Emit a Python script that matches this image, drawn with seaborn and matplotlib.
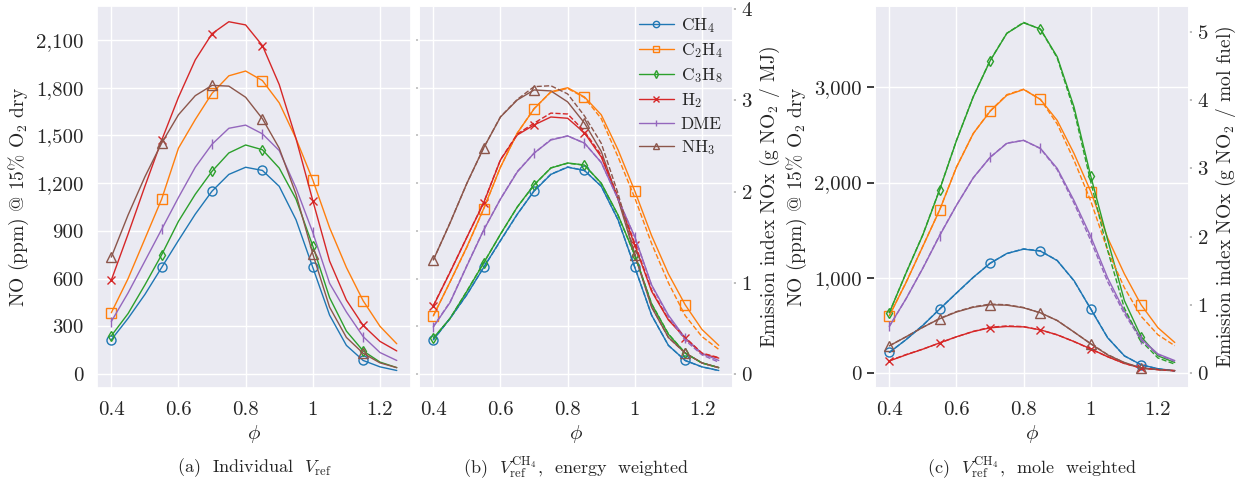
import numpy as np
import pandas as pd
import matplotlib
matplotlib.use("Agg")
import matplotlib.pyplot as plt
import seaborn as sns
from matplotlib.ticker import FuncFormatter, MultipleLocator

# equivalence ratio grid
phi = [0.40, 0.45, 0.50, 0.55, 0.60, 0.65, 0.70, 0.75, 0.80,
       0.85, 0.90, 0.95, 1.00, 1.05, 1.10, 1.15, 1.20, 1.25]

fuels = ["CH$_4$", "C$_2$H$_4$", "C$_3$H$_8$", "H$_2$", "DME", "NH$_3$"]
markers = ["o", "s", "d", "x", "|", "^"]

# (a) NO ppm, individual Vref
ch4_a = [215, 350, 500, 670, 840, 1005, 1150, 1255, 1300, 1280, 1180, 970, 670, 370, 180, 85, 45, 22]
c2h4_a = [385, 600, 850, 1100, 1420, 1600, 1765, 1875, 1905, 1845, 1705, 1480, 1220, 920, 670, 460, 300, 190]
c3h8_a = [240, 380, 560, 750, 960, 1130, 1275, 1390, 1440, 1410, 1295, 1100, 805, 480, 270, 145, 75, 40]
h2_a = [590, 880, 1180, 1470, 1740, 1975, 2140, 2215, 2195, 2065, 1820, 1480, 1090, 710, 465, 305, 205, 145]
dme_a = [330, 510, 710, 910, 1110, 1300, 1445, 1545, 1565, 1510, 1405, 1170, 890, 570, 390, 235, 135, 85]
nh3_a = [735, 1000, 1240, 1452, 1630, 1750, 1815, 1810, 1740, 1605, 1420, 1130, 755, 420, 230, 130, 70, 40]

# (b) NO ppm, CH4 Vref energy weighted
ch4_b = [215, 350, 500, 670, 840, 1005, 1150, 1255, 1300, 1280, 1180, 970, 670, 370, 180, 85, 45, 22]
c2h4_b = [365, 580, 800, 1040, 1300, 1515, 1667, 1775, 1800, 1742, 1630, 1410, 1150, 870, 630, 435, 280, 180]
c3h8_b = [226, 350, 520, 698, 880, 1050, 1190, 1295, 1327, 1314, 1200, 1000, 748, 440, 250, 132, 70, 40]
h2_b = [428, 640, 860, 1076, 1346, 1503, 1566, 1616, 1608, 1516, 1365, 1100, 810, 520, 340, 226, 126, 100]
dme_b = [296, 450, 680, 905, 1100, 1270, 1389, 1471, 1497, 1452, 1330, 1100, 862, 560, 370, 226, 130, 85]
nh3_b = [717, 950, 1200, 1422, 1616, 1723, 1786, 1780, 1711, 1578, 1400, 1100, 748, 420, 230, 132, 70, 40]

# (b) emission index g NO2 / MJ (dashed)
ch4_ei_b = [0.375, 0.61, 0.87, 1.17, 1.46, 1.75, 2.01, 2.19, 2.27, 2.23, 2.06, 1.69, 1.17, 0.645, 0.314, 0.148, 0.078, 0.038]
c2h4_ei_b = [0.64, 1.01, 1.39, 1.81, 2.27, 2.64, 2.91, 3.09, 3.13, 3.03, 2.80, 2.38, 1.93, 1.43, 1.00, 0.64, 0.41, 0.27]
c3h8_ei_b = [0.39, 0.61, 0.91, 1.22, 1.53, 1.83, 2.07, 2.26, 2.31, 2.29, 2.09, 1.74, 1.30, 0.77, 0.44, 0.23, 0.12, 0.07]
h2_ei_b = [0.75, 1.12, 1.50, 1.88, 2.35, 2.63, 2.75, 2.86, 2.85, 2.66, 2.40, 1.94, 1.43, 0.92, 0.60, 0.40, 0.23, 0.18]
dme_ei_b = [0.52, 0.79, 1.19, 1.58, 1.92, 2.22, 2.42, 2.57, 2.61, 2.53, 2.32, 1.92, 1.50, 0.97, 0.63, 0.37, 0.21, 0.13]
nh3_ei_b = [1.25, 1.66, 2.09, 2.48, 2.82, 3.01, 3.15, 3.16, 3.07, 2.83, 2.53, 1.98, 1.32, 0.74, 0.40, 0.23, 0.12, 0.07]

# (c) NO ppm, CH4 Vref mole weighted
ch4_c = [215, 350, 500, 670, 840, 1005, 1150, 1255, 1300, 1280, 1180, 970, 670, 370, 180, 85, 45, 22]
c2h4_c = [600, 950, 1330, 1713, 2160, 2515, 2747, 2916, 2977, 2873, 2652, 2305, 1905, 1420, 1040, 715, 475, 320]
c3h8_c = [632, 1050, 1450, 1925, 2440, 2900, 3277, 3567, 3677, 3612, 3320, 2794, 2065, 1400, 760, 380, 180, 110]
h2_c = [126, 190, 250, 316, 380, 435, 474, 488, 484, 453, 400, 330, 253, 170, 100, 53, 35, 25]
dme_c = [490, 780, 1100, 1443, 1760, 2050, 2264, 2411, 2443, 2359, 2148, 1811, 1432, 1000, 650, 358, 200, 130]
nh3_c = [284, 380, 480, 569, 640, 690, 716, 712, 684, 632, 550, 430, 305, 190, 110, 53, 35, 25]

# (c) emission index g NO2 / mol fuel (dashed)
ch4_ei_c = [0.30, 0.49, 0.70, 0.94, 1.17, 1.40, 1.61, 1.75, 1.82, 1.79, 1.65, 1.35, 0.94, 0.52, 0.25, 0.12, 0.06, 0.03]
c2h4_ei_c = [0.84, 1.33, 1.86, 2.39, 3.02, 3.51, 3.84, 4.08, 4.16, 4.01, 3.65, 3.12, 2.52, 1.80, 1.25, 0.83, 0.56, 0.40]
c3h8_ei_c = [0.88, 1.47, 2.03, 2.69, 3.41, 4.05, 4.58, 4.98, 5.14, 5.04, 4.62, 3.85, 2.80, 1.80, 0.95, 0.47, 0.22, 0.13]
h2_ei_c = [0.18, 0.27, 0.35, 0.44, 0.53, 0.61, 0.67, 0.69, 0.68, 0.63, 0.56, 0.46, 0.35, 0.24, 0.14, 0.07, 0.05, 0.03]
dme_ei_c = [0.68, 1.09, 1.54, 2.02, 2.46, 2.86, 3.16, 3.37, 3.41, 3.29, 2.98, 2.49, 1.94, 1.34, 0.87, 0.48, 0.27, 0.17]
nh3_ei_c = [0.40, 0.53, 0.67, 0.80, 0.90, 0.97, 1.01, 1.00, 0.96, 0.88, 0.77, 0.60, 0.43, 0.27, 0.15, 0.07, 0.05, 0.03]

panel_a = [ch4_a, c2h4_a, c3h8_a, h2_a, dme_a, nh3_a]
panel_b = [ch4_b, c2h4_b, c3h8_b, h2_b, dme_b, nh3_b]
panel_b_ei = [ch4_ei_b, c2h4_ei_b, c3h8_ei_b, h2_ei_b, dme_ei_b, nh3_ei_b]
panel_c = [ch4_c, c2h4_c, c3h8_c, h2_c, dme_c, nh3_c]
panel_c_ei = [ch4_ei_c, c2h4_ei_c, c3h8_ei_c, h2_ei_c, dme_ei_c, nh3_ei_c]

sns.set_theme(style="darkgrid", palette="tab10")
plt.rcParams["font.family"] = "serif"
plt.rcParams["font.serif"] = ["cmr10", "DejaVu Serif"]
plt.rcParams["mathtext.fontset"] = "cm"
plt.rcParams["axes.formatter.use_mathtext"] = True
colors = sns.color_palette("tab10", 6)

FS = 14
no_label = "NO (ppm) @ 15% O$_2$ dry"

fig = plt.figure(figsize=(12.52, 4.87), dpi=100)
ax_a = fig.add_axes([0.0775, 0.2033, 0.2508, 0.7844])
ax_b = fig.add_axes([0.3347, 0.2033, 0.2508, 0.7844])
ax_c = fig.add_axes([0.6989, 0.2033, 0.2508, 0.7844])


def draw_solid(ax, series, legend=False):
    for vals, name, m, col in zip(series, fuels, markers, colors):
        df = pd.DataFrame({"phi": phi, "val": vals})
        ms = 5.5 if m in ("x", "d") else 6.5
        sns.lineplot(data=df, x="phi", y="val", ax=ax, color=col, lw=1.0,
                     marker=m, markevery=3, markersize=ms, mfc="none",
                     mec=col, mew=1.0, label=name if legend else None)


def draw_dashed(ax, series):
    for vals, col in zip(series, colors):
        df = pd.DataFrame({"phi": phi, "val": vals})
        sns.lineplot(data=df, x="phi", y="val", ax=ax, color=col, lw=1.0,
                     linestyle="--")


thousands = FuncFormatter(lambda v, p: f"{v:,.0f}")
xfmt = FuncFormatter(lambda v, p: f"{v:g}")

for ax in (ax_a, ax_b, ax_c):
    ax.set_xlim(0.3575, 1.2925)
    ax.xaxis.set_major_locator(MultipleLocator(0.2))
    ax.xaxis.set_major_formatter(xfmt)
    ax.set_xlabel(r"$\phi$", fontsize=FS + 1, labelpad=3)
    ax.tick_params(labelsize=FS + 1)

# (a)
draw_solid(ax_a, panel_a)
ax_a.set_ylim(-88, 2314)
ax_a.yaxis.set_major_locator(MultipleLocator(300))
ax_a.yaxis.set_major_formatter(thousands)
ax_a.set_ylabel(no_label, fontsize=FS)

# (b)
draw_solid(ax_b, panel_b, legend=True)
ax_b.set_ylim(-88, 2314)
ax_b.yaxis.set_major_locator(MultipleLocator(300))
ax_b.set_ylabel("")
ax_b.tick_params(axis="y", labelleft=False, left=True, length=2, color="0.75")
ax_b2 = ax_b.twinx()
draw_dashed(ax_b2, panel_b_ei)
ax_b2.set_ylim(-0.153, 4.034)
ax_b2.yaxis.set_major_locator(MultipleLocator(1))
ax_b2.grid(False)
ax_b2.tick_params(axis="y", right=True, length=2, color="0.7", labelsize=FS + 1)
ax_b2.set_ylabel("Emission index NOx (g NO$_2$ / MJ)", fontsize=FS)
ax_b.legend(loc="upper right", fontsize=12.5, frameon=False, handlelength=2.0,
            borderaxespad=0.2, labelspacing=0.35, handletextpad=0.4,
            markerscale=0.7)

# (c)
draw_solid(ax_c, panel_c)
ax_c.set_ylim(-158, 3854)
ax_c.yaxis.set_major_locator(MultipleLocator(1000))
ax_c.yaxis.set_major_formatter(thousands)
ax_c.set_ylabel(no_label, fontsize=FS)
ax_c2 = ax_c.twinx()
draw_dashed(ax_c2, panel_c_ei)
ax_c2.set_ylim(-0.22, 5.38)
ax_c2.yaxis.set_major_locator(MultipleLocator(1))
ax_c2.grid(False)
ax_c2.tick_params(axis="y", right=True, length=2, color="0.7", labelsize=FS + 1)
ax_c2.set_ylabel("Emission index NOx (g NO$_2$ / mol fuel)", fontsize=FS)

captions = [r"(a)  Individual  $V_{\mathrm{ref}}$",
            r"(b)  $V_{\mathrm{ref}}^{\mathrm{CH}_4}$,  energy  weighted",
            r"(c)  $V_{\mathrm{ref}}^{\mathrm{CH}_4}$,  mole  weighted"]
for ax, cap in zip((ax_a, ax_b, ax_c), captions):
    ax.text(0.5, -0.209, cap, transform=ax.transAxes, ha="center", va="center",
            fontsize=FS - 1)

fig.savefig("out.png", dpi=100)
